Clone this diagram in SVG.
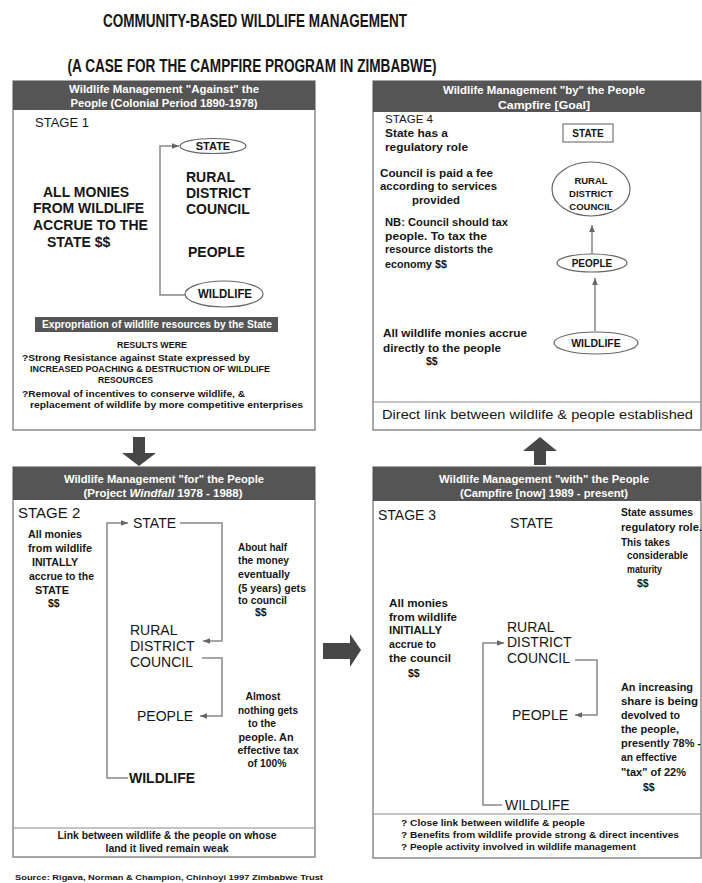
<svg xmlns="http://www.w3.org/2000/svg" width="702" height="883" viewBox="0 0 702 883">
<style>
text{font-family:"Liberation Sans",Arial,sans-serif;fill:#161616}
.title{font-size:18px;font-weight:bold;text-anchor:middle}
.panel{fill:#fff;stroke:#8a8a8a;stroke-width:1.5}
.hdr{fill:#555}
.ht{font-size:10px;font-weight:bold;fill:#fff;text-anchor:middle}
.big{font-size:14px}
.bigb{font-size:14px;font-weight:bold}
.sm{font-size:10.5px;font-weight:bold}
.xs{font-size:8.5px;font-weight:bold}
.c{text-anchor:middle}
.ln{fill:none;stroke:#888;stroke-width:1.5}
.div{stroke:#8a8a8a;stroke-width:1.2}
.ell{fill:#fff;stroke:#666;stroke-width:1.2}
.arr{fill:#474747}
</style>
<defs>
<marker id="ah" viewBox="0 0 10 10" refX="10" refY="5" markerWidth="7" markerHeight="7" markerUnits="userSpaceOnUse" orient="auto">
<path d="M0,1 L10,5 L0,9 z" fill="#666"/>
</marker>
</defs>

<g id="title">
<text class="title" x="255" y="27" textLength="304" lengthAdjust="spacingAndGlyphs">COMMUNITY-BASED WILDLIFE MANAGEMENT</text>
<text class="title" x="252" y="72" textLength="369" lengthAdjust="spacingAndGlyphs">(A CASE FOR THE CAMPFIRE PROGRAM IN ZIMBABWE)</text>
</g>

<!-- STAGE 1 -->
<g id="stage1">
<rect class="panel" x="13" y="81" width="302" height="349"/>
<rect class="hdr" x="13" y="81" width="302" height="29"/>
<text class="ht" x="164" y="93" textLength="190" lengthAdjust="spacingAndGlyphs">Wildlife Management "Against" the</text>
<text class="ht" x="164" y="107" textLength="187" lengthAdjust="spacingAndGlyphs">People (Colonial Period 1890-1978)</text>
<text x="35" y="127" font-size="13">STAGE 1</text>
<text class="bigb" x="43" y="197">ALL MONIES</text>
<text class="bigb" x="33" y="213">FROM WILDLIFE</text>
<text class="bigb" x="33" y="230">ACCRUE TO THE</text>
<text class="bigb" x="47" y="247">STATE $$</text>
<rect class="hdr" x="35" y="317" width="243" height="15"/>
<text class="ht" x="157" y="328" font-size="9.5" textLength="230" lengthAdjust="spacingAndGlyphs">Expropriation of wildlife resources by the State</text>
<text class="xs c" x="152" y="348" textLength="70" lengthAdjust="spacingAndGlyphs">RESULTS WERE</text>
<text class="xs" x="22" y="361" textLength="228" lengthAdjust="spacingAndGlyphs">?Strong Resistance against State expressed by</text>
<text class="xs" x="30" y="372" textLength="240" lengthAdjust="spacingAndGlyphs">INCREASED POACHING &amp; DESTRUCTION OF WILDLIFE</text>
<text class="xs" x="98" y="383" textLength="55" lengthAdjust="spacingAndGlyphs">RESOURCES</text>
<text class="xs" x="22" y="397" textLength="223" lengthAdjust="spacingAndGlyphs">?Removal of incentives to conserve wildlife, &amp;</text>
<text class="xs" x="30" y="408" textLength="273" lengthAdjust="spacingAndGlyphs">replacement of wildlife by more competitive enterprises</text>
</g>
<g id="s1-state">
<ellipse class="ell" cx="213" cy="146" rx="33" ry="7.5"/>
<text class="c" x="213" y="150" font-size="11" font-weight="bold">STATE</text>
</g>
<g id="s1-rdc">
<text class="bigb" x="186" y="182">RURAL</text>
<text class="bigb" x="186" y="198">DISTRICT</text>
<text class="bigb" x="186" y="214">COUNCIL</text>
</g>
<g id="s1-people"><text class="bigb" x="188" y="257">PEOPLE</text></g>
<g id="s1-wildlife">
<ellipse class="ell" cx="224" cy="294" rx="39" ry="13"/>
<text class="c" x="225" y="298" font-size="12" font-weight="bold" textLength="54" lengthAdjust="spacingAndGlyphs">WILDLIFE</text>
</g>

<!-- STAGE 4 -->
<g id="stage4">
<rect class="panel" x="373" y="81" width="328" height="349"/>
<rect class="hdr" x="373" y="81" width="328" height="31"/>
<text class="ht" x="544" y="94" textLength="202" lengthAdjust="spacingAndGlyphs">Wildlife Management "by" the People</text>
<text class="ht" x="544" y="109" textLength="92" lengthAdjust="spacingAndGlyphs">Campfire [Goal]</text>
<text x="385" y="123" font-size="11.5" textLength="48" lengthAdjust="spacingAndGlyphs">STAGE 4</text>
<text class="sm" x="385" y="137" font-size="11" textLength="63" lengthAdjust="spacingAndGlyphs">State has a</text>
<text class="sm" x="385" y="151" font-size="11" textLength="83" lengthAdjust="spacingAndGlyphs">regulatory role</text>
<text class="sm" x="380" y="177" font-size="11" textLength="113" lengthAdjust="spacingAndGlyphs">Council is paid a fee</text>
<text class="sm" x="380" y="190" font-size="11" textLength="117" lengthAdjust="spacingAndGlyphs">according to services</text>
<text class="sm" x="412" y="204" font-size="11" textLength="48" lengthAdjust="spacingAndGlyphs">provided</text>
<text class="sm" x="385" y="226" font-size="11" textLength="123" lengthAdjust="spacingAndGlyphs">NB: Council should tax</text>
<text class="sm" x="385" y="240" font-size="11" textLength="102" lengthAdjust="spacingAndGlyphs">people.  To tax the</text>
<text class="sm" x="385" y="253" font-size="11" textLength="108" lengthAdjust="spacingAndGlyphs">resource distorts the</text>
<text class="sm" x="385" y="268" font-size="11" textLength="62" lengthAdjust="spacingAndGlyphs">economy $$</text>
<text class="sm" x="383" y="337" font-size="11" textLength="144" lengthAdjust="spacingAndGlyphs">All wildlife monies accrue</text>
<text class="sm" x="383" y="352" font-size="11" textLength="118" lengthAdjust="spacingAndGlyphs">directly to the people</text>
<text class="sm" x="426" y="365" font-size="11">$$</text>
<line class="div" x1="373" y1="402" x2="701" y2="402"/>
<text x="382" y="419" font-size="13" textLength="311" lengthAdjust="spacingAndGlyphs">Direct link between wildlife &amp; people established</text>
</g>
<g id="s4-state">
<rect x="563" y="124" width="50" height="18" fill="#fff" stroke="#777" stroke-width="1.2"/>
<text class="c" x="588" y="137" font-size="10" font-weight="bold">STATE</text>
</g>
<g id="s4-rdc">
<ellipse class="ell" cx="591" cy="189" rx="39" ry="27"/>
<text class="c" x="591" y="184" font-size="9.5" font-weight="bold">RURAL</text>
<text class="c" x="591" y="197" font-size="9.5" font-weight="bold">DISTRICT</text>
<text class="c" x="591" y="210" font-size="9.5" font-weight="bold">COUNCIL</text>
</g>
<g id="s4-people">
<ellipse class="ell" cx="592" cy="263" rx="35" ry="9"/>
<text class="c" x="592" y="267" font-size="10" font-weight="bold">PEOPLE</text>
</g>
<g id="s4-wildlife">
<ellipse class="ell" cx="596" cy="343" rx="42" ry="11"/>
<text class="c" x="596" y="347" font-size="10.5" font-weight="bold">WILDLIFE</text>
</g>

<!-- STAGE 2 -->
<g id="stage2">
<rect class="panel" x="13" y="467" width="302" height="390"/>
<rect class="hdr" x="13" y="467" width="302" height="33"/>
<text class="ht" x="164" y="483" textLength="200" lengthAdjust="spacingAndGlyphs">Wildlife Management "for" the People</text>
<text class="ht" x="163" y="497" textLength="159" lengthAdjust="spacingAndGlyphs">(Project <tspan font-style="italic">Windfall</tspan>  1978 - 1988)</text>
<text x="18" y="518" font-size="15">STAGE 2</text>
<text class="sm" x="28" y="538" textLength="54" lengthAdjust="spacingAndGlyphs">All monies</text>
<text class="sm" x="28" y="552" textLength="64" lengthAdjust="spacingAndGlyphs">from wildlife</text>
<text class="sm" x="32" y="566" textLength="46" lengthAdjust="spacingAndGlyphs">INITALLY</text>
<text class="sm" x="29" y="580" textLength="65" lengthAdjust="spacingAndGlyphs">accrue to the</text>
<text class="sm" x="35" y="594" textLength="34" lengthAdjust="spacingAndGlyphs">STATE</text>
<text class="sm" x="48" y="607">$$</text>
<text class="sm" x="238" y="551" textLength="49" lengthAdjust="spacingAndGlyphs">About half</text>
<text class="sm" x="238" y="564" textLength="51" lengthAdjust="spacingAndGlyphs">the money</text>
<text class="sm" x="238" y="578" textLength="52" lengthAdjust="spacingAndGlyphs">eventually</text>
<text class="sm" x="238" y="592" textLength="68" lengthAdjust="spacingAndGlyphs">(5 years) gets</text>
<text class="sm" x="238" y="604" textLength="49" lengthAdjust="spacingAndGlyphs">to council</text>
<text class="sm" x="255" y="616">$$</text>
<text class="sm c" x="263" y="700" textLength="35" lengthAdjust="spacingAndGlyphs">Almost</text>
<text class="sm c" x="268" y="714" textLength="60" lengthAdjust="spacingAndGlyphs">nothing gets</text>
<text class="sm c" x="262" y="727" textLength="28" lengthAdjust="spacingAndGlyphs">to the</text>
<text class="sm c" x="266" y="741" textLength="55" lengthAdjust="spacingAndGlyphs">people.  An</text>
<text class="sm c" x="268" y="754" textLength="61" lengthAdjust="spacingAndGlyphs">effective tax</text>
<text class="sm c" x="267" y="767" textLength="39" lengthAdjust="spacingAndGlyphs">of 100%</text>
<line class="div" x1="13" y1="828" x2="315" y2="828"/>
<text class="sm c" x="167" y="839" textLength="219" lengthAdjust="spacingAndGlyphs">Link between wildlife &amp; the people on whose</text>
<text class="sm c" x="167" y="852" textLength="123" lengthAdjust="spacingAndGlyphs">land it lived remain weak</text>
</g>
<g id="s2-state"><text class="big" x="133" y="528">STATE</text></g>
<g id="s2-rdc">
<text class="big" x="130" y="635">RURAL</text>
<text class="big" x="130" y="651">DISTRICT</text>
<text class="big" x="130" y="667">COUNCIL</text>
</g>
<g id="s2-people"><text class="big" x="137" y="721">PEOPLE</text></g>
<g id="s2-wildlife"><text class="bigb" x="129" y="783">WILDLIFE</text></g>

<!-- STAGE 3 -->
<g id="stage3">
<rect class="panel" x="373" y="467" width="328" height="391"/>
<rect class="hdr" x="373" y="467" width="328" height="34"/>
<text class="ht" x="544" y="483" textLength="210" lengthAdjust="spacingAndGlyphs">Wildlife Management "with" the People</text>
<text class="ht" x="544" y="497" textLength="168" lengthAdjust="spacingAndGlyphs">(Campfire [now] 1989 - present)</text>
<text x="378" y="520" font-size="14">STAGE 3</text>
<text class="sm" x="621" y="516" font-size="11" textLength="72" lengthAdjust="spacingAndGlyphs">State assumes</text>
<text class="sm" x="621" y="531" font-size="11" textLength="81" lengthAdjust="spacingAndGlyphs">regulatory role.</text>
<text class="sm" x="621" y="546" font-size="11" textLength="49" lengthAdjust="spacingAndGlyphs">This takes</text>
<text class="sm" x="627" y="559" font-size="11" textLength="61" lengthAdjust="spacingAndGlyphs">considerable</text>
<text class="sm" x="627" y="573" font-size="11" textLength="35" lengthAdjust="spacingAndGlyphs">maturity</text>
<text class="sm" x="637" y="587" font-size="11">$$</text>
<text class="sm" x="389" y="607" font-size="11" textLength="59" lengthAdjust="spacingAndGlyphs">All monies</text>
<text class="sm" x="389" y="621" font-size="11" textLength="68" lengthAdjust="spacingAndGlyphs">from wildlife</text>
<text class="sm" x="389" y="634" font-size="11" textLength="53" lengthAdjust="spacingAndGlyphs">INITIALLY</text>
<text class="sm" x="389" y="648" font-size="11" textLength="47" lengthAdjust="spacingAndGlyphs">accrue to</text>
<text class="sm" x="389" y="662" font-size="11" textLength="62" lengthAdjust="spacingAndGlyphs">the council</text>
<text class="sm" x="408" y="677" font-size="11">$$</text>
<text class="sm" x="621" y="691" font-size="11" textLength="72" lengthAdjust="spacingAndGlyphs">An increasing</text>
<text class="sm" x="621" y="705" font-size="11" textLength="77" lengthAdjust="spacingAndGlyphs">share is being</text>
<text class="sm" x="621" y="719" font-size="11" textLength="59" lengthAdjust="spacingAndGlyphs">devolved to</text>
<text class="sm" x="621" y="733" font-size="11" textLength="58" lengthAdjust="spacingAndGlyphs">the people,</text>
<text class="sm" x="621" y="747" font-size="11" textLength="80" lengthAdjust="spacingAndGlyphs">presently 78% -</text>
<text class="sm" x="621" y="761" font-size="11" textLength="56" lengthAdjust="spacingAndGlyphs">an effective</text>
<text class="sm" x="621" y="776" font-size="11" textLength="65" lengthAdjust="spacingAndGlyphs">"tax" of 22%</text>
<text class="sm" x="643" y="791" font-size="11">$$</text>
<line class="div" x1="373" y1="814" x2="701" y2="814"/>
<text class="xs" x="401" y="826" textLength="184" lengthAdjust="spacingAndGlyphs">? Close link between wildlife &amp; people</text>
<text class="xs" x="401" y="838" textLength="278" lengthAdjust="spacingAndGlyphs">? Benefits from wildlife provide strong &amp; direct incentives</text>
<text class="xs" x="401" y="850" textLength="235" lengthAdjust="spacingAndGlyphs">? People activity involved in wildlife management</text>
</g>
<g id="s3-state"><text class="big" x="510" y="528">STATE</text></g>
<g id="s3-rdc">
<text class="big" x="507" y="632">RURAL</text>
<text class="big" x="507" y="647">DISTRICT</text>
<text class="big" x="507" y="663">COUNCIL</text>
</g>
<g id="s3-people"><text class="big" x="512" y="720">PEOPLE</text></g>
<g id="s3-wildlife"><text class="big" x="505" y="810">WILDLIFE</text></g>

<!-- connectors -->
<g id="connectors">
<path class="ln" d="M185,295 L160,295 L160,146 L179,146" marker-end="url(#ah)"/>
<line class="ln" x1="592" y1="254" x2="592" y2="225" marker-end="url(#ah)"/>
<line class="ln" x1="595" y1="331" x2="595" y2="278" marker-end="url(#ah)"/>
<path class="ln" d="M128,778 L107,778 L107,523 L128,523" marker-end="url(#ah)"/>
<path class="ln" d="M180,523 L222,523 L222,641 L203,641" marker-end="url(#ah)"/>
<path class="ln" d="M202,658 L222,658 L222,716 L200,716" marker-end="url(#ah)"/>
<path class="ln" d="M502,805 L483,805 L483,643 L504,643" marker-end="url(#ah)"/>
<path class="ln" d="M575,660 L597,660 L597,715 L575,715" marker-end="url(#ah)"/>
<polygon class="arr" points="133,437 145,437 145,453 156,453 139,466 122,453 133,453"/>
<polygon class="arr" points="534,465 546,465 546,451 557,451 540,437 523,451 534,451"/>
<polygon class="arr" points="323,643 350,643 350,634 361,650 350,667 350,659 323,659"/>
</g>

<text x="15" y="880" font-size="7.5" font-weight="bold" fill="#444" textLength="308" lengthAdjust="spacingAndGlyphs">Source: Rigava, Norman &amp; Champion, Chinhoyi 1997 Zimbabwe Trust</text>
</svg>
